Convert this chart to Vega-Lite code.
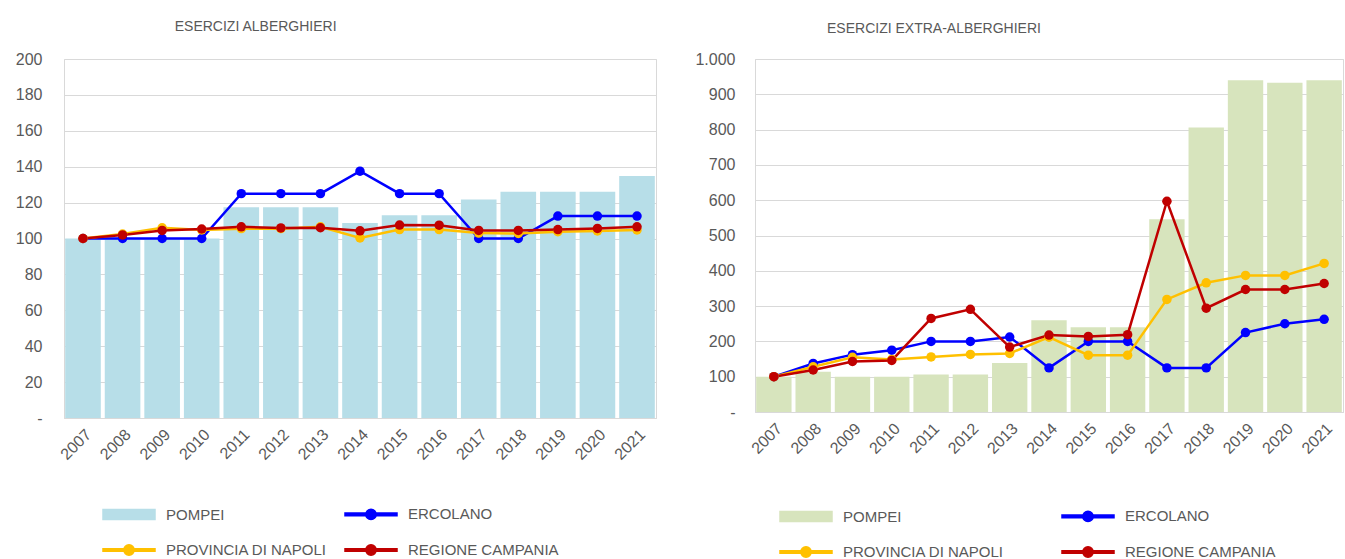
{
  "$schema": "https://vega.github.io/schema/vega-lite/v6.json",
  "background": "white",
  "padding": {"left": 14, "top": 19, "right": 0, "bottom": 0},
  "config": {
    "font": "Liberation Sans",
    "view": {"stroke": "#d9d9d9", "strokeWidth": 1},
    "axis": {"labelColor": "#595959", "labelFontSize": 16, "gridColor": "#d9d9d9", "domainColor": "#d9d9d9", "ticks": false, "title": null},
    "title": {"fontSize": 14, "fontWeight": "normal", "color": "#595959", "frame": "bounds", "anchor": "middle", "offset": 20}
  },
  "datasets": {
    "alb": [
      {"anno": "2007", "serie": "Pompei", "valore": 100}, {"anno": "2008", "serie": "Pompei", "valore": 100}, {"anno": "2009", "serie": "Pompei", "valore": 100}, {"anno": "2010", "serie": "Pompei", "valore": 100}, {"anno": "2011", "serie": "Pompei", "valore": 117.4}, {"anno": "2012", "serie": "Pompei", "valore": 117.4}, {"anno": "2013", "serie": "Pompei", "valore": 117.4}, {"anno": "2014", "serie": "Pompei", "valore": 108.7}, {"anno": "2015", "serie": "Pompei", "valore": 113}, {"anno": "2016", "serie": "Pompei", "valore": 113}, {"anno": "2017", "serie": "Pompei", "valore": 121.7}, {"anno": "2018", "serie": "Pompei", "valore": 126.1}, {"anno": "2019", "serie": "Pompei", "valore": 126.1}, {"anno": "2020", "serie": "Pompei", "valore": 126.1}, {"anno": "2021", "serie": "Pompei", "valore": 134.8},
      {"anno": "2007", "serie": "Ercolano", "valore": 100}, {"anno": "2008", "serie": "Ercolano", "valore": 100}, {"anno": "2009", "serie": "Ercolano", "valore": 100}, {"anno": "2010", "serie": "Ercolano", "valore": 100}, {"anno": "2011", "serie": "Ercolano", "valore": 125}, {"anno": "2012", "serie": "Ercolano", "valore": 125}, {"anno": "2013", "serie": "Ercolano", "valore": 125}, {"anno": "2014", "serie": "Ercolano", "valore": 137.5}, {"anno": "2015", "serie": "Ercolano", "valore": 125}, {"anno": "2016", "serie": "Ercolano", "valore": 125}, {"anno": "2017", "serie": "Ercolano", "valore": 100}, {"anno": "2018", "serie": "Ercolano", "valore": 100}, {"anno": "2019", "serie": "Ercolano", "valore": 112.5}, {"anno": "2020", "serie": "Ercolano", "valore": 112.5}, {"anno": "2021", "serie": "Ercolano", "valore": 112.5},
      {"anno": "2007", "serie": "Provincia di Napoli", "valore": 100}, {"anno": "2008", "serie": "Provincia di Napoli", "valore": 102.5}, {"anno": "2009", "serie": "Provincia di Napoli", "valore": 106}, {"anno": "2010", "serie": "Provincia di Napoli", "valore": 104.8}, {"anno": "2011", "serie": "Provincia di Napoli", "valore": 105.5}, {"anno": "2012", "serie": "Provincia di Napoli", "valore": 105.5}, {"anno": "2013", "serie": "Provincia di Napoli", "valore": 106.5}, {"anno": "2014", "serie": "Provincia di Napoli", "valore": 100.3}, {"anno": "2015", "serie": "Provincia di Napoli", "valore": 105}, {"anno": "2016", "serie": "Provincia di Napoli", "valore": 105}, {"anno": "2017", "serie": "Provincia di Napoli", "valore": 103}, {"anno": "2018", "serie": "Provincia di Napoli", "valore": 102.8}, {"anno": "2019", "serie": "Provincia di Napoli", "valore": 103.8}, {"anno": "2020", "serie": "Provincia di Napoli", "valore": 104.2}, {"anno": "2021", "serie": "Provincia di Napoli", "valore": 104.8},
      {"anno": "2007", "serie": "Regione Campania", "valore": 100}, {"anno": "2008", "serie": "Regione Campania", "valore": 102}, {"anno": "2009", "serie": "Regione Campania", "valore": 104.5}, {"anno": "2010", "serie": "Regione Campania", "valore": 105.3}, {"anno": "2011", "serie": "Regione Campania", "valore": 106.5}, {"anno": "2012", "serie": "Regione Campania", "valore": 105.9}, {"anno": "2013", "serie": "Regione Campania", "valore": 106}, {"anno": "2014", "serie": "Regione Campania", "valore": 104.3}, {"anno": "2015", "serie": "Regione Campania", "valore": 107.5}, {"anno": "2016", "serie": "Regione Campania", "valore": 107.4}, {"anno": "2017", "serie": "Regione Campania", "valore": 104.5}, {"anno": "2018", "serie": "Regione Campania", "valore": 104.5}, {"anno": "2019", "serie": "Regione Campania", "valore": 105}, {"anno": "2020", "serie": "Regione Campania", "valore": 105.6}, {"anno": "2021", "serie": "Regione Campania", "valore": 106.5}
    ],
    "extra": [
      {"anno": "2007", "serie": "Pompei", "valore": 100}, {"anno": "2008", "serie": "Pompei", "valore": 114}, {"anno": "2009", "serie": "Pompei", "valore": 100}, {"anno": "2010", "serie": "Pompei", "valore": 100}, {"anno": "2011", "serie": "Pompei", "valore": 106}, {"anno": "2012", "serie": "Pompei", "valore": 106}, {"anno": "2013", "serie": "Pompei", "valore": 139}, {"anno": "2014", "serie": "Pompei", "valore": 260}, {"anno": "2015", "serie": "Pompei", "valore": 240}, {"anno": "2016", "serie": "Pompei", "valore": 240}, {"anno": "2017", "serie": "Pompei", "valore": 546}, {"anno": "2018", "serie": "Pompei", "valore": 806}, {"anno": "2019", "serie": "Pompei", "valore": 940}, {"anno": "2020", "serie": "Pompei", "valore": 933}, {"anno": "2021", "serie": "Pompei", "valore": 940},
      {"anno": "2007", "serie": "Ercolano", "valore": 100}, {"anno": "2008", "serie": "Ercolano", "valore": 137.5}, {"anno": "2009", "serie": "Ercolano", "valore": 162.5}, {"anno": "2010", "serie": "Ercolano", "valore": 175}, {"anno": "2011", "serie": "Ercolano", "valore": 200}, {"anno": "2012", "serie": "Ercolano", "valore": 200}, {"anno": "2013", "serie": "Ercolano", "valore": 212.5}, {"anno": "2014", "serie": "Ercolano", "valore": 125}, {"anno": "2015", "serie": "Ercolano", "valore": 200}, {"anno": "2016", "serie": "Ercolano", "valore": 200}, {"anno": "2017", "serie": "Ercolano", "valore": 125}, {"anno": "2018", "serie": "Ercolano", "valore": 125}, {"anno": "2019", "serie": "Ercolano", "valore": 225}, {"anno": "2020", "serie": "Ercolano", "valore": 250}, {"anno": "2021", "serie": "Ercolano", "valore": 262.5},
      {"anno": "2007", "serie": "Provincia di Napoli", "valore": 100}, {"anno": "2008", "serie": "Provincia di Napoli", "valore": 128}, {"anno": "2009", "serie": "Provincia di Napoli", "valore": 155}, {"anno": "2010", "serie": "Provincia di Napoli", "valore": 149}, {"anno": "2011", "serie": "Provincia di Napoli", "valore": 156}, {"anno": "2012", "serie": "Provincia di Napoli", "valore": 163}, {"anno": "2013", "serie": "Provincia di Napoli", "valore": 166}, {"anno": "2014", "serie": "Provincia di Napoli", "valore": 212}, {"anno": "2015", "serie": "Provincia di Napoli", "valore": 161}, {"anno": "2016", "serie": "Provincia di Napoli", "valore": 161}, {"anno": "2017", "serie": "Provincia di Napoli", "valore": 319}, {"anno": "2018", "serie": "Provincia di Napoli", "valore": 366}, {"anno": "2019", "serie": "Provincia di Napoli", "valore": 387}, {"anno": "2020", "serie": "Provincia di Napoli", "valore": 387}, {"anno": "2021", "serie": "Provincia di Napoli", "valore": 421},
      {"anno": "2007", "serie": "Regione Campania", "valore": 100}, {"anno": "2008", "serie": "Regione Campania", "valore": 119}, {"anno": "2009", "serie": "Regione Campania", "valore": 143}, {"anno": "2010", "serie": "Regione Campania", "valore": 146}, {"anno": "2011", "serie": "Regione Campania", "valore": 265}, {"anno": "2012", "serie": "Regione Campania", "valore": 291}, {"anno": "2013", "serie": "Regione Campania", "valore": 184}, {"anno": "2014", "serie": "Regione Campania", "valore": 218}, {"anno": "2015", "serie": "Regione Campania", "valore": 214}, {"anno": "2016", "serie": "Regione Campania", "valore": 219}, {"anno": "2017", "serie": "Regione Campania", "valore": 597}, {"anno": "2018", "serie": "Regione Campania", "valore": 294}, {"anno": "2019", "serie": "Regione Campania", "valore": 347}, {"anno": "2020", "serie": "Regione Campania", "valore": 347}, {"anno": "2021", "serie": "Regione Campania", "valore": 364}
    ]
  },
  "spacing": 37,
  "resolve": {"scale": {"color": "independent", "y": "independent", "x": "independent"}, "legend": {"color": "independent"}},
  "hconcat": [
    {
      "title": {"text": "ESERCIZI ALBERGHIERI", "dx": -80, "dy": 3},
      "width": 592,
      "height": 359,
      "data": {"name": "alb"},
      "encoding": {
        "x": {"field": "anno", "type": "ordinal", "scale": {"paddingInner": 0.1, "paddingOuter": 0.03}, "axis": {"labelAngle": -45, "labelPadding": 8, "grid": false}},
        "y": {"field": "valore", "type": "quantitative", "scale": {"domain": [0, 200], "nice": false}, "axis": {"values": [0, 20, 40, 60, 80, 100, 120, 140, 160, 180, 200], "labelPadding": 22, "domain": false, "labelExpr": "datum.value == 0 ? '-' : format(datum.value, 'd')"}}
      },
      "layer": [
        {
          "transform": [{"filter": "datum.serie == 'Pompei'"}],
          "mark": {"type": "bar", "opacity": 1},
          "encoding": {
            "color": {"field": "serie", "type": "nominal",
              "scale": {"domain": ["Pompei", "Ercolano", "Provincia di Napoli", "Regione Campania"], "range": ["#b7dee8", "#0000ff", "#ffc000", "#c00000"]},
              "legend": {"orient": "none", "legendX": 38, "legendY": 428, "direction": "horizontal", "columns": 2, "title": null, "symbolSize": 2704, "labelFontSize": 15, "labelLimit": 400, "labelColor": "#595959", "labelOffset": 10, "columnPadding": 15, "rowPadding": -16,
                "symbolType": {"expr": "datum.value == 'Pompei' ? 'M-1,-0.19H1V0.19H-1Z' : 'M-1,-0.05H1V0.05H-1Z M0.2,0A0.2,0.2 0 1,1 -0.2,0A0.2,0.2 0 1,1 0.2,0Z'"},
                "labelExpr": "upper(datum.label)",
                "encode": {"symbols": {"update": {
                  "shape": {"signal": "datum.value == 'Pompei' ? 'M-1,-0.19H1V0.19H-1Z' : 'M-1,-0.05H1V0.05H-1Z M0.2,0A0.2,0.2 0 1,1 -0.2,0A0.2,0.2 0 1,1 0.2,0Z'"},
                  "fill": {"signal": "datum.value == 'Pompei' ? '#b7dee8' : datum.value == 'Ercolano' ? '#0000ff' : datum.value == 'Provincia di Napoli' ? '#ffc000' : '#c00000'"},
                  "stroke": {"value": "transparent"}, "strokeWidth": {"value": 0}, "opacity": {"value": 1}, "fillOpacity": {"value": 1}}}}}
            }
          }
        },
        {
          "transform": [{"filter": "datum.serie != 'Pompei'"}],
          "mark": {"type": "line", "strokeWidth": 2.5, "point": {"filled": true, "size": 90, "opacity": 1}},
          "encoding": {
            "color": {"field": "serie", "type": "nominal"}
          }
        }
      ]
    },
    {
      "title": {"text": "ESERCIZI EXTRA-ALBERGHIERI", "dx": -85, "dy": 5},
      "width": 588,
      "height": 353,
      "data": {"name": "extra"},
      "encoding": {
        "x": {"field": "anno", "type": "ordinal", "scale": {"paddingInner": 0.1, "paddingOuter": 0.03}, "axis": {"labelAngle": -45, "labelPadding": 8, "grid": false}},
        "y": {"field": "valore", "type": "quantitative", "scale": {"domain": [0, 1000], "nice": false}, "axis": {"values": [0, 100, 200, 300, 400, 500, 600, 700, 800, 900, 1000], "labelPadding": 20, "domain": false, "labelExpr": "datum.value == 0 ? '-' : replace(format(datum.value, ','), ',', '.')"}}
      },
      "layer": [
        {
          "transform": [{"filter": "datum.serie == 'Pompei'"}],
          "mark": {"type": "bar", "opacity": 1},
          "encoding": {
            "color": {"field": "serie", "type": "nominal",
              "scale": {"domain": ["Pompei", "Ercolano", "Provincia di Napoli", "Regione Campania"], "range": ["#d7e4bd", "#0000ff", "#ffc000", "#c00000"]},
              "legend": {"orient": "none", "legendX": 24, "legendY": 430, "direction": "horizontal", "columns": 2, "title": null, "symbolSize": 2704, "labelFontSize": 15, "labelLimit": 400, "labelColor": "#595959", "labelOffset": 10, "columnPadding": 55, "rowPadding": -26,
                "symbolType": {"expr": "datum.value == 'Pompei' ? 'M-1,-0.19H1V0.19H-1Z' : 'M-1,-0.05H1V0.05H-1Z M0.2,0A0.2,0.2 0 1,1 -0.2,0A0.2,0.2 0 1,1 0.2,0Z'"},
                "labelExpr": "upper(datum.label)",
                "encode": {"symbols": {"update": {
                  "shape": {"signal": "datum.value == 'Pompei' ? 'M-1,-0.19H1V0.19H-1Z' : 'M-1,-0.05H1V0.05H-1Z M0.2,0A0.2,0.2 0 1,1 -0.2,0A0.2,0.2 0 1,1 0.2,0Z'"},
                  "fill": {"signal": "datum.value == 'Pompei' ? '#d7e4bd' : datum.value == 'Ercolano' ? '#0000ff' : datum.value == 'Provincia di Napoli' ? '#ffc000' : '#c00000'"},
                  "stroke": {"value": "transparent"}, "strokeWidth": {"value": 0}, "opacity": {"value": 1}, "fillOpacity": {"value": 1}}}}}
            }
          }
        },
        {
          "transform": [{"filter": "datum.serie != 'Pompei'"}],
          "mark": {"type": "line", "strokeWidth": 2.5, "point": {"filled": true, "size": 90, "opacity": 1}},
          "encoding": {
            "color": {"field": "serie", "type": "nominal"}
          }
        }
      ]
    }
  ]
}
